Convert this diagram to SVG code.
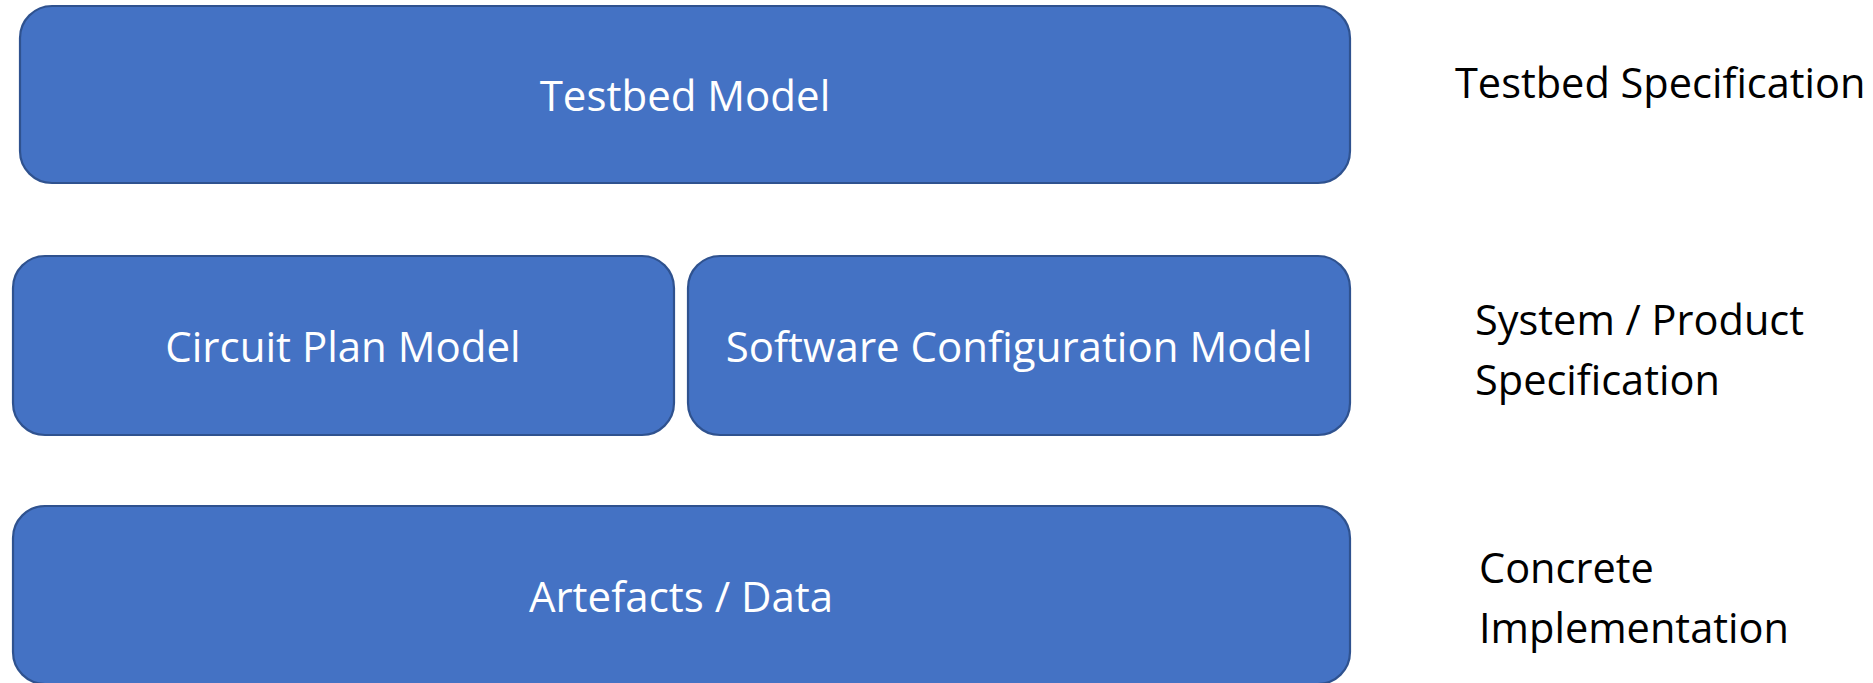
<svg xmlns="http://www.w3.org/2000/svg" width="1873" height="683" viewBox="0 0 1873 683">
<style>
.box{fill:#4472C4;stroke:#2F528F;stroke-width:2.2}
.lbl{font-family:"Open Sans","Noto Sans","Liberation Sans",sans-serif;font-size:42px;fill:#FFFFFF;text-anchor:middle}
.side{font-family:"Open Sans","Noto Sans","Liberation Sans",sans-serif;font-size:41.5px;fill:#000000}
</style>
<rect width="1873" height="683" fill="#FFFFFF"/>
<g id="node-testbed-model">
<rect class="box" x="20" y="6" width="1330" height="177" rx="32" ry="32"/>
<text class="lbl" x="685" y="111">Testbed Model</text>
</g>
<g id="node-circuit-plan-model">
<rect class="box" x="13" y="256" width="661" height="179" rx="32" ry="32"/>
<text class="lbl" x="343" y="362">Circuit Plan Model</text>
</g>
<g id="node-software-configuration-model">
<rect class="box" x="688" y="256" width="662" height="179" rx="32" ry="32"/>
<text class="lbl" x="1019" y="362">Software Configuration Model</text>
</g>
<g id="node-artefacts-data">
<rect class="box" x="13" y="506" width="1337" height="178" rx="32" ry="32"/>
<text class="lbl" x="681" y="612">Artefacts / Data</text>
</g>
<g id="connectors"></g>
<g id="side-labels">
<text class="side" x="1455" y="98">Testbed Specification</text>
<text class="side" x="1475" y="335">System / Product</text>
<text class="side" x="1475" y="395">Specification</text>
<text class="side" x="1479" y="583">Concrete</text>
<text class="side" x="1479" y="643">Implementation</text>
</g>
</svg>
